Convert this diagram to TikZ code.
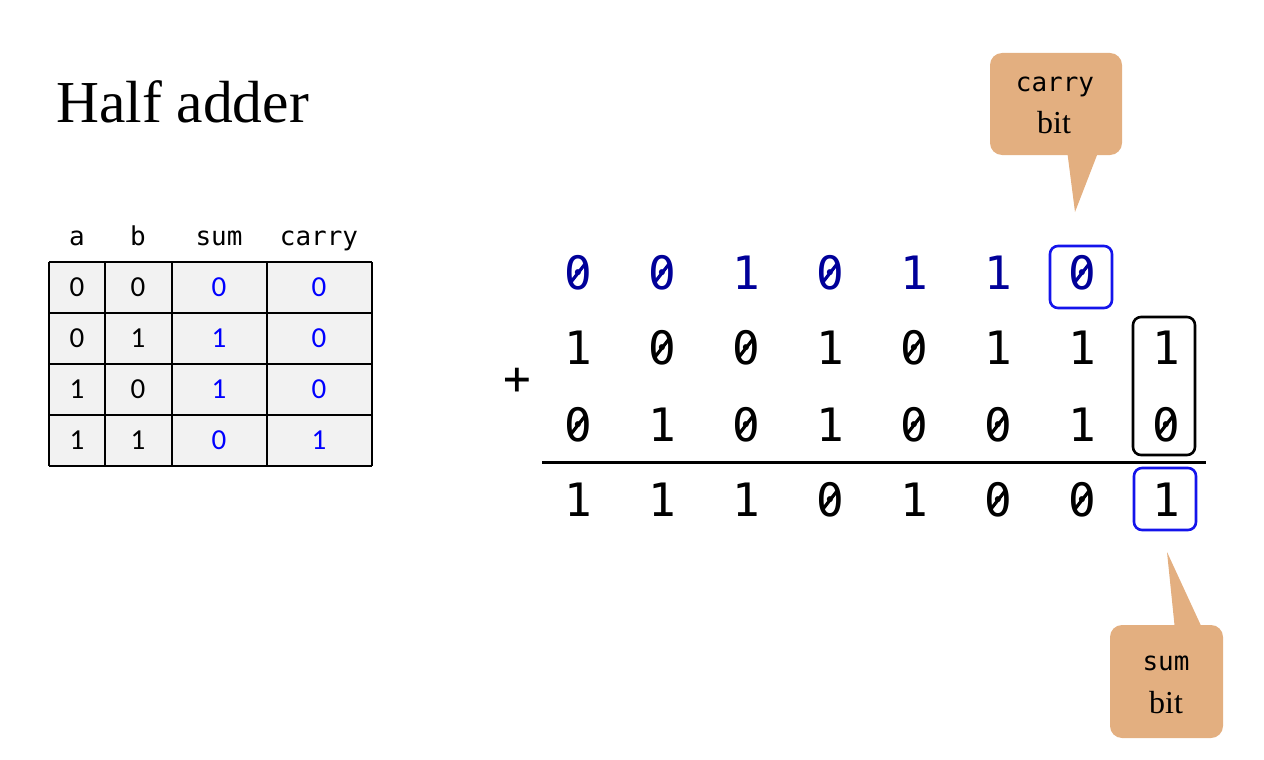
\documentclass[tikz,border=0pt]{standalone}
\usepackage{fontspec}
\setmainfont{Liberation Serif}
\newfontfamily\monof{DejaVu Sans Mono}
\newfontfamily\tabf{Carlito}
\definecolor{navy}{RGB}{0,0,153}
\definecolor{pblue}{RGB}{0,0,255}
\definecolor{boxblue}{RGB}{20,20,235}
\definecolor{tan}{RGB}{227,175,128}
\definecolor{cellgray}{RGB}{242,242,242}
\begin{document}
\begin{tikzpicture}[x=1pt,y=-1pt,
  digit/.style={font=\monof\fontsize{46}{46}\selectfont, inner sep=0pt, anchor=center},
  hdr/.style={font=\monof\fontsize{26}{26}\selectfont, inner sep=0pt, anchor=base},
  serifbit/.style={font=\fontsize{32}{32}\selectfont, inner sep=0pt, anchor=base},
  cell/.style={font=\tabf\fontsize{29}{29}\selectfont, inner sep=0pt},
  callout/.style={fill=tan, rounded corners=12pt, inner sep=0pt},
  hlbox/.style={draw, line width=2.6pt, rounded corners=8pt},
  zslash/.style={line width=3.2pt}
]
\useasboundingbox (0,0) rectangle (1264,760);
% title
\node[anchor=base west, inner sep=0pt, font=\fontsize{59.5}{59.5}\selectfont] (title) at (56,122) {Half adder};
% table
\fill[cellgray] (49,262) rectangle (372,466);
\foreach \y in {262,313,364,415,466} \draw[line width=1.6pt] (49,\y) -- (372,\y);
\foreach \x in {49,105,172,267,372} \draw[line width=1.6pt] (\x,262) -- (\x,466);
\node[hdr] (ha) at (77,245) {a};
\node[hdr] (hb) at (138,245) {b};
\node[hdr] (hs) at (219,245) {sum};
\node[hdr] (hc) at (319,245) {carry};
\foreach \r/\a/\b/\s/\c in {1/0/0/0/0, 2/0/1/1/0, 3/1/0/1/0, 4/1/1/0/1}{
  \pgfmathsetmacro{\yy}{287.5+51*(\r-1)}
  \node[cell] (ta\r) at (77,\yy) {\a};
  \node[cell] (tb\r) at (138,\yy) {\b};
  \node[cell, text=pblue] (ts\r) at (219,\yy) {\s};
  \node[cell, text=pblue] (tc\r) at (319,\yy) {\c};
}
% addition
\foreach \d [count=\i] in {0,0,1,0,1,1,0}{
  \node[digit, text=navy] (c\i) at ({578+84*(\i-1)},273) {\d};
  \ifnum\d=0 \draw[zslash, navy] ([shift={(-7,9)}]c\i.center) -- ([shift={(7,-9)}]c\i.center);\fi
}
\foreach \d [count=\i] in {1,0,0,1,0,1,1,1}{
  \node[digit] (a\i) at ({578+84*(\i-1)},348) {\d};
  \ifnum\d=0 \draw[zslash] ([shift={(-7,9)}]a\i.center) -- ([shift={(7,-9)}]a\i.center);\fi
}
\foreach \d [count=\i] in {0,1,0,1,0,0,1,0}{
  \node[digit] (b\i) at ({578+84*(\i-1)},425) {\d};
  \ifnum\d=0 \draw[zslash] ([shift={(-7,9)}]b\i.center) -- ([shift={(7,-9)}]b\i.center);\fi
}
\foreach \d [count=\i] in {1,1,1,0,1,0,0,1}{
  \node[digit] (s\i) at ({578+84*(\i-1)},500) {\d};
  \ifnum\d=0 \draw[zslash] ([shift={(-7,9)}]s\i.center) -- ([shift={(7,-9)}]s\i.center);\fi
}
\node[digit] (plus) at (517,381) {+};
\coordinate (ruleL) at (542,462);
\coordinate (ruleR) at (1206,462);
\draw[line width=3pt] (ruleL) -- (ruleR);
% highlight boxes
\draw[hlbox, boxblue] (1050,246) rectangle (1112,308);
\draw[hlbox, black] (1133,317) rectangle (1195,455);
\draw[hlbox, boxblue] (1134,468) rectangle (1196,530);
% carry callout
\fill[tan] (1067,150) -- (1099,150) -- (1075,212) -- cycle;
\node[callout, minimum width=132pt, minimum height=102pt] (carrycall) at (1056,104) {};
\node[hdr] (carrytxt) at (1055,92) {carry};
\node[serifbit] (carrybit) at (1054,133) {bit};
% sum callout
\fill[tan] (1175,630) -- (1203,630) -- (1167,552) -- cycle;
\node[callout, minimum width=113pt, minimum height=113pt] (sumcall) at (1166.5,681.5) {};
\node[hdr] (sumtxt) at (1166,670) {sum};
\node[serifbit] (sumbit) at (1166,713) {bit};
\end{tikzpicture}
\end{document}
